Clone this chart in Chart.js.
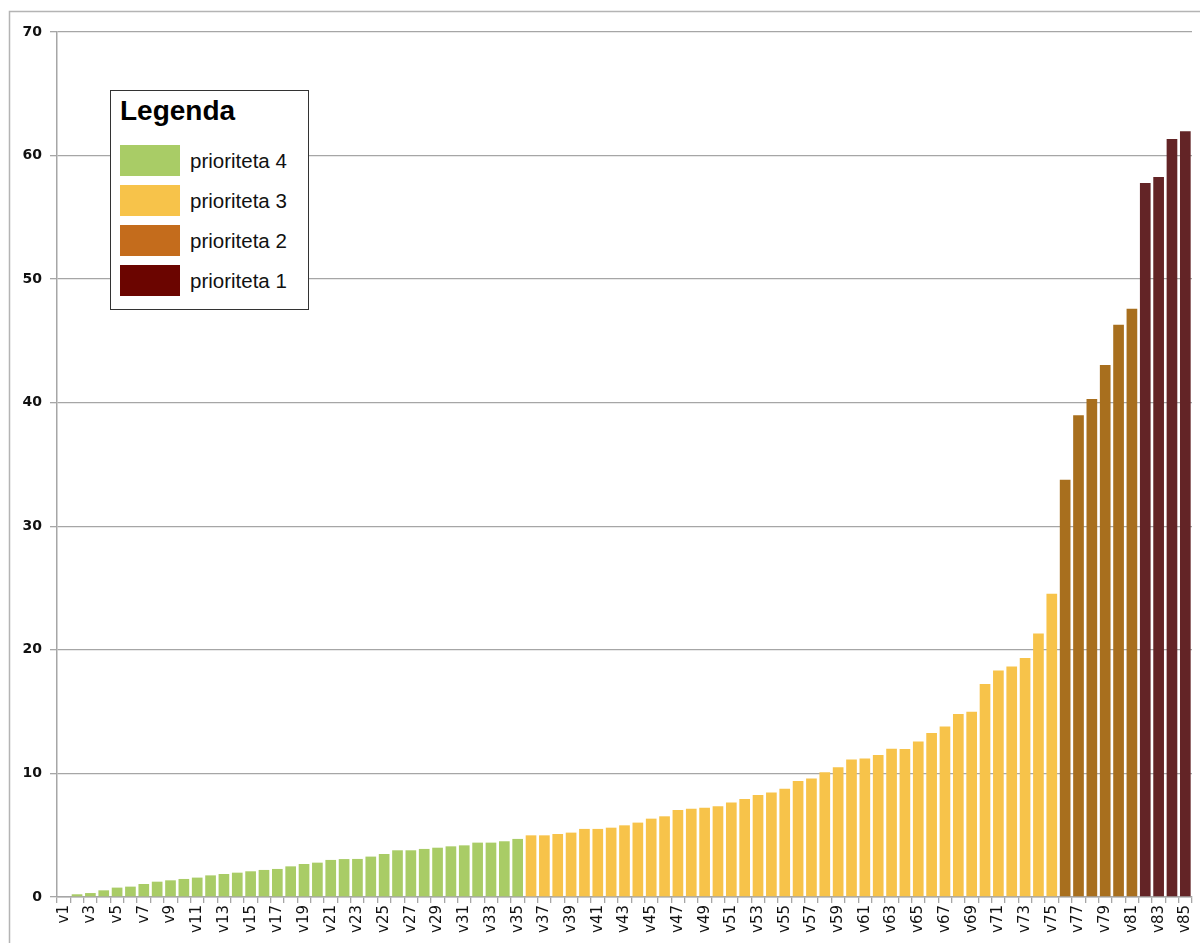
<!DOCTYPE html>
<html>
<head>
<meta charset="utf-8">
<script src="https://cdn.jsdelivr.net/npm/chart.js@4"></script>
<style>
  body { margin: 0; background: #fff; overflow: hidden; }
  #wrap { position: relative; width: 1200px; height: 943px; }
  canvas { display: block; }
  #legend {
    position: absolute; left: 110px; top: 90px; width: 199px; height: 220px;
    border: 1px solid #333; background: #fff; box-sizing: border-box;
    font-family: "Liberation Sans", Arial, sans-serif;
  }
  #legend .title { position: absolute; left: 9px; top: 4px; font-size: 28px; font-weight: bold; color: #000; }
  #legend .row { position: absolute; left: 9px; height: 31px; }
  #legend .sw { position: absolute; left: 0; top: 0; width: 60px; height: 31px; }
  #legend .lbl { position: absolute; left: 70px; top: 4px; font-size: 20.5px; color: #111; white-space: nowrap; }
</style>
</head>
<body>
<div id="wrap">
  <canvas id="area" width="1200" height="943"></canvas>
  <div id="legend">
    <div class="title">Legenda</div>
    <div class="row" style="top:54px"><div class="sw" style="background:#A9CC66"></div><div class="lbl">prioriteta 4</div></div>
    <div class="row" style="top:94px"><div class="sw" style="background:#F7C34A"></div><div class="lbl">prioriteta 3</div></div>
    <div class="row" style="top:134px"><div class="sw" style="background:#C46C1C"></div><div class="lbl">prioriteta 2</div></div>
    <div class="row" style="top:174px"><div class="sw" style="background:#6B0500"></div><div class="lbl">prioriteta 1</div></div>
  </div>
</div>
<script>
// categories v1..v85
var labels = [];
for (var i = 1; i <= 85; i++) labels.push('v' + i);

// values, in order
var prio4 = [0, 0.22, 0.32, 0.54, 0.76, 0.84, 1.05, 1.24, 1.35, 1.46,
  1.57, 1.75, 1.86, 1.97, 2.08, 2.19, 2.27, 2.48, 2.67, 2.78,
  3.0, 3.07, 3.08, 3.27, 3.48, 3.78, 3.78, 3.89, 3.99, 4.1,
  4.18, 4.4, 4.4, 4.51, 4.7];
var prio3 = [4.99, 4.99, 5.1, 5.21, 5.51, 5.51, 5.61, 5.8, 6.02, 6.34,
  6.53, 7.04, 7.15, 7.23, 7.34, 7.64, 7.94, 8.26, 8.45, 8.77,
  9.39, 9.58, 10.09, 10.5, 11.12, 11.2, 11.5, 12.0, 11.97, 12.58,
  13.28, 13.79, 14.81, 15.0, 17.23, 18.33, 18.66, 19.35, 21.32, 24.54];
var prio2 = [33.77, 38.98, 40.3, 43.05, 46.31, 47.6];
var prio1 = [57.79, 58.27, 61.35, 61.97];

var yTicks = [0, 10, 20, 30, 40, 50, 60, 70];

// place each group on its own categories, nulls elsewhere
function place(vals, start) {
  var out = [];
  for (var i = 0; i < labels.length; i++) {
    var j = i - start;
    out.push(j >= 0 && j < vals.length ? vals[j] : null);
  }
  return out;
}
var s4 = 0, s3 = prio4.length, s2 = s3 + prio3.length, s1 = s2 + prio2.length;

var frame = {
  id: 'frame',
  beforeDraw: function(chart) {
    var c = chart.ctx;
    c.save();
    c.fillStyle = '#fff';
    c.fillRect(0, 0, chart.width, chart.height);
    c.strokeStyle = '#b4b4b4';
    c.lineWidth = 1.5;
    c.strokeRect(9.5, 11.5, 1300, 1000);
    c.restore();
  }
};

var grid = '#a6a6a6';
var bar = { barPercentage: 0.8, categoryPercentage: 1, grouped: false, borderWidth: 0 };

var ctx = document.getElementById('area').getContext('2d');
var myChart = new Chart(ctx, {
  type: 'bar',
  data: {
    labels: labels,
    datasets: [
      Object.assign({ label: 'prioriteta 4', data: place(prio4, s4), backgroundColor: '#A9CC66' }, bar),
      Object.assign({ label: 'prioriteta 3', data: place(prio3, s3), backgroundColor: '#F7C34A' }, bar),
      Object.assign({ label: 'prioriteta 2', data: place(prio2, s2), backgroundColor: '#A86F1E' }, bar),
      Object.assign({ label: 'prioriteta 1', data: place(prio1, s1), backgroundColor: '#632426' }, bar)
    ]
  },
  options: {
    responsive: false,
    animation: false,
    layout: { padding: { top: 32, right: 8, bottom: 0, left: 0 } },
    plugins: { legend: { display: false }, tooltip: { enabled: false } },
    scales: {
      x: {
        offset: true,
        grid: { display: true, drawOnChartArea: false, offset: true, color: grid, lineWidth: 1.3, tickLength: 6 },
        border: { color: grid, width: 1.5 },
        ticks: {
          autoSkip: false, minRotation: 90, maxRotation: 90, padding: 2,
          color: '#111', font: { family: 'DejaVu Sans', size: 15 },
          callback: function(v, i) { return i % 2 === 0 ? labels[i] : ''; }
        },
        afterFit: function(s) { s.height = 46; s.paddingLeft = 0; s.paddingRight = 0; }
      },
      y: {
        min: 0, max: 70,
        afterBuildTicks: function(s) { s.ticks = yTicks.map(function(v) { return { value: v }; }); },
        grid: { color: grid, lineWidth: 1.3, tickLength: 7 },
        border: { color: grid, width: 1.5 },
        ticks: { padding: 8, color: '#111', font: { family: 'DejaVu Sans', size: 14, weight: 'bold' } },
        afterFit: function(s) { s.width = 57; }
      }
    }
  },
  plugins: [frame]
});
</script>
</body>
</html>
